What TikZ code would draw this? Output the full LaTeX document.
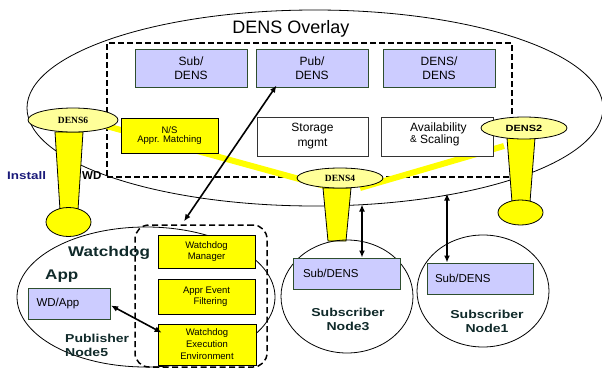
\documentclass[tikz,border=0pt]{standalone}
\usepackage{fontspec}
\setmainfont{Liberation Sans}
\newfontfamily\widefont[FakeStretch=1.22]{Liberation Sans}
\newfontfamily\serfont{Liberation Serif}
\usetikzlibrary{shapes.geometric,arrows.meta,calc}
\definecolor{purp}{HTML}{CCCCFF}
\definecolor{pborder}{HTML}{2E4E2E}
\definecolor{yel}{HTML}{FFFF00}
\definecolor{lyel}{HTML}{FFFF99}
\definecolor{lbl}{HTML}{102A2A}
\definecolor{navy}{HTML}{1A1A7A}
\begin{document}
\begin{tikzpicture}[x=1pt,y=-1pt,
  wh/.style 2 args={minimum width=#1pt,minimum height=#2pt},
  purpbox/.style={draw=pborder,line width=1pt,fill=purp,inner sep=0pt,align=center,font=\fontsize{12}{14}\selectfont},
  whitebox/.style={draw=black!80,line width=0.8pt,fill=white,inner sep=0pt,align=center,font=\fontsize{12}{15}\selectfont},
  yelbox/.style={draw=black,line width=0.8pt,fill=yel,inner sep=0pt,align=center,font=\fontsize{9.5}{11.5}\selectfont},
  densell/.style={draw=black,line width=0.8pt,fill=lyel,ellipse,inner sep=0pt},
  foot/.style={draw=black,line width=0.8pt,fill=yel,ellipse,inner sep=0pt},
  stem/.style={draw=black,line width=0.8pt,fill=yel},
  ring/.style={draw=black,line width=0.8pt,ellipse,inner sep=0pt},
  yline/.style={draw=yel,line width=6pt},
  dbl/.style={line width=1.6pt,{Latex[length=7pt,width=6pt]}-{Latex[length=7pt,width=6pt]}},
  boldlbl/.style={text=lbl,font=\widefont\bfseries\fontsize{11.5}{13.5}\selectfont,inner sep=0pt,align=center}
]
\useasboundingbox (0,0) rectangle (602,372);
\fill[white] (0,0) rectangle (602,372);

% overlay
\node[ring,minimum width=576pt,minimum height=196pt] (overlay) at (315,108) {};
\node[draw,dash pattern=on 6pt off 3pt,line width=1.1pt,wh={405}{134},inner sep=0pt] (dashbox) at (309.5,110) {};
\node[font=\fontsize{18}{20}\selectfont,inner sep=0pt] (title) at (291,29) {DENS Overlay};

% yellow links
\coordinate (yl1) at (70,116);
\coordinate (yl2) at (332,188);
\coordinate (yr1) at (360,188);
\coordinate (yr2) at (504,146);
\draw[yline] (yl1) -- (yl2);
\draw[yline] (yr1) -- (yr2);

% boxes in overlay
\node[purpbox,wh={112}{38}] (subdens) at (191,68) {Sub/\\DENS};
\node[purpbox,wh={112}{38}] (pubdens) at (312,68) {Pub/\\DENS};
\node[purpbox,wh={112}{38}] (densdens) at (439,68) {DENS/\\DENS};
\node[yelbox,wh={97}{35},font=\fontsize{9.5}{9.5}\selectfont] (ns) at (169.5,135.5) {N/S\\Appr. Matching};
\node[whitebox,wh={111}{39}] (storage) at (312.5,136.5) {Storage\\mgmt};
\node[whitebox,wh={112}{39}] (avail) at (437,136.5) {};
\node[inner sep=0pt,align=left,font=\fontsize{12}{10}\selectfont,anchor=west] (availtxt) at (410,134) {Availability\\{\fontsize{10}{10}\selectfont\raisebox{1pt}{\&}} Scaling};

% DENS6
\draw[stem] (55,132) -- (83,132) -- (78,210) -- (60,210) -- cycle;
\node[foot,wh={45}{29}] (foot6) at (68.5,222) {};
\node[densell,wh={90}{24}] (dens6) at (73,120) {\serfont\bfseries\fontsize{9.5}{11}\selectfont DENS6};
% DENS2
\draw[stem] (507,138) -- (535,138) -- (530,202) -- (512,202) -- cycle;
\node[foot,wh={45}{25}] (foot2) at (520.5,212.5) {};
\node[densell,wh={86}{22}] (dens2) at (524,128) {\widefont\bfseries\fontsize{9}{11}\selectfont DENS2};
% DENS4
\draw[stem] (323,188) -- (351,188) -- (346,241) -- (328,241) -- cycle;
\node[densell,wh={86}{20}] (dens4) at (340,178) {\serfont\bfseries\fontsize{9.5}{11}\selectfont DENS4};

% Install WD
\node[anchor=west,inner sep=0pt,text=navy,font=\widefont\bfseries\fontsize{11}{12}\selectfont] (install) at (7,176) {Install};
\node[anchor=west,inner sep=0pt,font=\bfseries\fontsize{11.5}{12}\selectfont] (wd) at (82,176) {WD};

% lower nodes
\node[ring,wh={258}{140}] (node5) at (146,297) {};
\node[ring,wh={132}{113}] (node3) at (347,296.5) {};
\node[ring,wh={132}{112}] (node1) at (483,291) {};
\node[draw,dash pattern=on 6pt off 3.5pt,rounded corners=14pt,line width=1.5pt,wh={132}{142},inner sep=0pt] (wdbox) at (201,296) {};

\node[yelbox,wh={97}{33}] (wdm) at (206.5,251.5) {Watchdog\\Manager};
\node[yelbox,wh={97}{35}] (aef) at (206.5,296.5) {Appr Event\\\hspace*{8pt}Filtering};
\node[yelbox,wh={98}{41},font=\fontsize{9.5}{12}\selectfont] (wee) at (207,344.5) {Watchdog\\Execution\\Environment};

\node[purpbox,wh={82}{31},font=\fontsize{11.5}{13}\selectfont,anchor=west,align=left,text width=82pt,inner xsep=0pt] (wdapp) at (28,303.5) {\hspace*{8pt}WD/App};
\node[purpbox,wh={107}{31},font=\fontsize{11.5}{13}\selectfont,align=left,text width=107pt] (sub3) at (346.5,273.5) {\hspace*{10pt}Sub/DENS};
\node[purpbox,wh={106}{31},font=\fontsize{11.5}{13}\selectfont,align=left,text width=106pt] (sub1) at (480,278.5) {\hspace*{8pt}Sub/DENS};

\node[boldlbl,anchor=west,font=\widefont\bfseries\fontsize{14}{16}\selectfont] (wdlabel) at (68,253) {Watchdog};
\node[boldlbl,anchor=west,font=\widefont\bfseries\fontsize{14}{16}\selectfont] (applabel) at (45,276) {App};
\node[boldlbl,anchor=west,align=left] (publabel) at (65,345.5) {Publisher\\Node5};
\node[boldlbl] (n3label) at (348,319.5) {Subscriber\\Node3};
\node[boldlbl] (n1label) at (487,321.5) {Subscriber\\Node1};

% arrows
\draw[dbl] ($(wdbox.north)+(-17,-3)$) -- ($(pubdens.south west)+(21,-2)$);
\draw[dbl] ($(wdapp.east)+(0,2)$) -- ($(wee.north west)+(4,9)$);
\draw[dbl] ($(sub3.north)+(15.5,0)$) -- ++(0,-53);
\draw[dbl] ($(sub1.north)+(-33,0)$) -- ++(0,-69);
\end{tikzpicture}
\end{document}
